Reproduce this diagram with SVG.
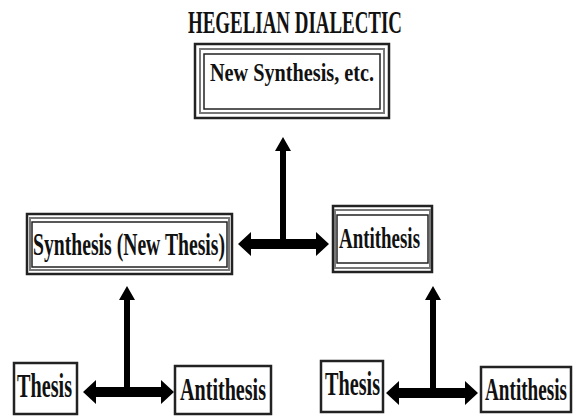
<svg xmlns="http://www.w3.org/2000/svg" width="574" height="416" viewBox="0 0 574 416">
<style>
.t{font-family:"Liberation Serif","Times New Roman",serif;font-weight:bold;fill:#111;}
.o{fill:none;stroke:#222;stroke-width:2.5;}
.m{fill:none;stroke:#777;stroke-width:2;}
.i{fill:none;stroke:#222;stroke-width:1.5;}
.s{fill:#fff;stroke:#222;stroke-width:2.5;}
.a{fill:#000;stroke:none;}
</style>
<rect width="574" height="416" fill="#fff"/>
<text class="t" x="188" y="33" font-size="31" textLength="214" lengthAdjust="spacingAndGlyphs">HEGELIAN DIALECTIC</text>
<g id="connectors">
<path class="a" d="M238 244 L251 232 L251 239 L316 239 L316 232 L329 244 L316 256 L316 249 L251 249 L251 256 Z"/>
<path class="a" d="M280 244 L280 151 L275 151 L283 137 L291 151 L286 151 L286 244 Z"/>
<path class="a" d="M83 392 L96 380 L96 387 L161 387 L161 380 L174 392 L161 404 L161 397 L96 397 L96 404 Z"/>
<path class="a" d="M124 392 L124 300 L119 300 L127 286 L135 300 L130 300 L130 392 Z"/>
<path class="a" d="M386 393 L399 381 L399 388 L465 388 L465 381 L478 393 L465 405 L465 398 L399 398 L399 405 Z"/>
<path class="a" d="M430 393 L430 300 L425 300 L433 286 L441 300 L436 300 L436 393 Z"/>
</g>
<g id="new-synthesis">
<rect class="o" x="195" y="44" width="194" height="74"/>
<rect class="m" x="200" y="49" width="184" height="64"/>
<rect class="i" x="204" y="54" width="176" height="55"/>
<text class="t" x="210" y="81" font-size="25" textLength="164" lengthAdjust="spacingAndGlyphs">New Synthesis, etc.</text>
</g>
<g id="synthesis">
<rect class="o" x="27" y="214" width="205" height="60"/>
<rect class="m" x="30" y="218" width="199" height="52"/>
<rect class="i" x="32" y="222" width="195" height="45"/>
<text class="t" x="33" y="255" font-size="31" textLength="192" lengthAdjust="spacingAndGlyphs">Synthesis (New Thesis)</text>
</g>
<g id="antithesis-mid">
<rect class="o" x="333" y="206" width="99" height="66"/>
<rect class="m" x="335" y="210" width="95" height="58"/>
<rect class="i" x="337" y="215" width="91" height="48"/>
<text class="t" x="339" y="248" font-size="30" textLength="81" lengthAdjust="spacingAndGlyphs">Antithesis</text>
</g>
<g id="thesis-left">
<rect class="s" x="14" y="363" width="63" height="51"/>
<text class="t" x="17" y="397" font-size="34" textLength="55" lengthAdjust="spacingAndGlyphs">Thesis</text>
</g>
<g id="antithesis-left">
<rect class="s" x="175" y="366" width="96" height="48"/>
<text class="t" x="180" y="400" font-size="32" textLength="86" lengthAdjust="spacingAndGlyphs">Antithesis</text>
</g>
<g id="thesis-right">
<rect class="s" x="321" y="361" width="62" height="51"/>
<text class="t" x="325" y="395" font-size="34" textLength="55" lengthAdjust="spacingAndGlyphs">Thesis</text>
</g>
<g id="antithesis-right">
<rect class="s" x="481" y="367" width="90" height="45"/>
<text class="t" transform="translate(485,400) scale(1,1.64)" x="0" y="0" font-size="19.5" textLength="82" lengthAdjust="spacingAndGlyphs">Antithesis</text>
</g>
</svg>
